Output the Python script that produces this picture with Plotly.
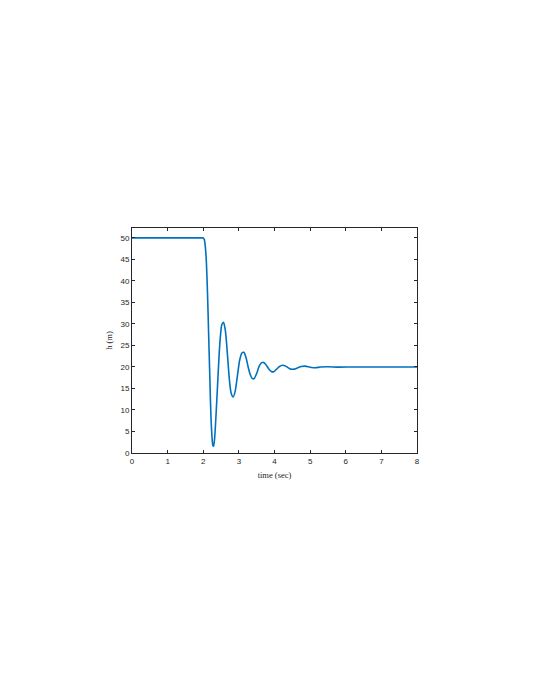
import plotly.graph_objects as go

time_sec = [0.0, 1.0, 1.9, 1.97, 2.0, 2.03, 2.06, 2.09, 2.12, 2.15, 2.18, 2.21, 2.24, 2.27, 2.29,
            2.32, 2.36, 2.40, 2.44, 2.48, 2.52, 2.57, 2.62, 2.66, 2.70, 2.74, 2.78,
            2.84, 2.90, 2.96, 3.02, 3.08, 3.14, 3.20, 3.26, 3.32, 3.38, 3.43, 3.50,
            3.57, 3.64, 3.71, 3.78, 3.85, 3.92, 3.98, 4.06, 4.14, 4.22, 4.29, 4.37,
            4.45, 4.55, 4.65, 4.75, 4.86, 5.0, 5.14, 5.3, 5.5, 5.8, 6.2, 7.0, 8.0]
h_m = [50.0, 50.0, 50.0, 50.0, 50.0, 49.6, 47.8, 44.0, 37.0, 28.0, 19.0, 10.0, 4.5, 1.7, 1.6,
       3.5, 9.0, 15.5, 22.0, 27.0, 29.8, 30.4, 28.5, 25.0, 20.5, 16.5, 14.0,
       13.0, 14.5, 18.0, 21.5, 23.2, 23.4, 22.2, 20.0, 18.2, 17.3, 17.3, 18.5,
       20.2, 21.0, 21.0, 20.3, 19.4, 18.9, 18.9, 19.5, 20.1, 20.4, 20.3, 19.9,
       19.5, 19.5, 19.8, 20.1, 20.2, 19.95, 19.8, 20.0, 20.05, 19.95, 20.0, 20.0, 20.0]

x_ticks = [0, 1, 2, 3, 4, 5, 6, 7, 8]
y_ticks = [0, 5, 10, 15, 20, 25, 30, 35, 40, 45, 50]

fig = go.Figure()
fig.add_trace(go.Scatter(x=time_sec, y=h_m, mode="lines",
                         line=dict(color="#0072BD", width=1.6, shape="spline", smoothing=0.6),
                         showlegend=False))

axis_common = dict(showline=True, linecolor="#262626", linewidth=0.8, mirror="ticks",
                   ticks="inside", ticklen=3, tickcolor="#262626", tickwidth=0.8,
                   showgrid=False, zeroline=False,
                   tickfont=dict(family="Liberation Sans, Arial, sans-serif", size=8, color="#262626"))

fig.update_layout(
    width=536, height=693,
    margin=dict(l=124, r=127, t=220, b=247.5, pad=0),
    paper_bgcolor="white", plot_bgcolor="white",
    xaxis=dict(range=[0, 8], tickvals=x_ticks,
               title=dict(text="time (sec)", standoff=7,
                          font=dict(family="Liberation Serif, Times New Roman, serif", size=8.5, color="#262626")),
               **axis_common),
    yaxis=dict(range=[0, 52.3], tickvals=y_ticks,
               title=dict(text="h (m)", standoff=6,
                          font=dict(family="Liberation Serif, Times New Roman, serif", size=8.5, color="#262626")),
               **axis_common),
)

fig.write_html("out.html")
